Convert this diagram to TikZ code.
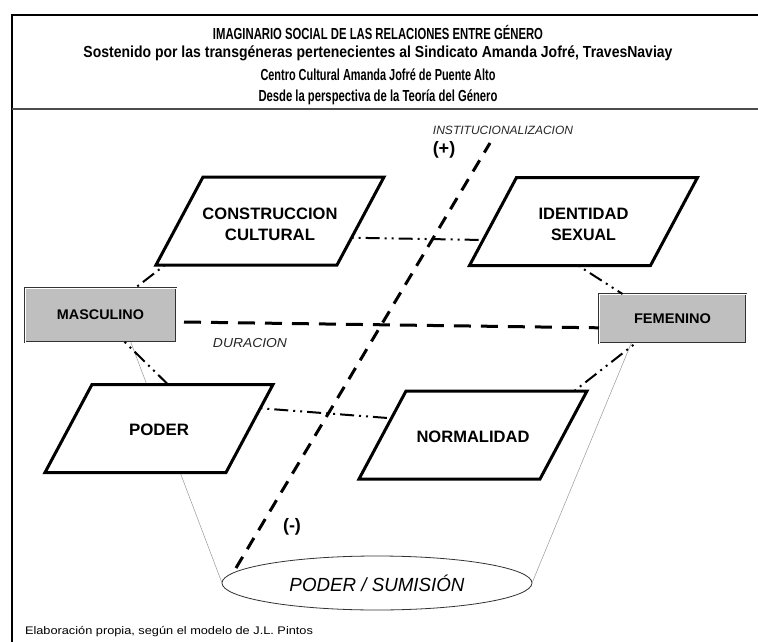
\documentclass[tikz,border=0pt]{standalone}
\usepackage{fontspec}
\setmainfont{Liberation Sans}
\usepackage{graphicx}
\usetikzlibrary{calc,shapes.geometric}
\newcommand\fitw[2]{\resizebox{#1}{\height}{#2}}
\newcommand\paracorners[1]{%
  \coordinate (#1-tl) at ([xshift=23.5pt]#1.north west);
  \coordinate (#1-tr) at ([xshift=23.5pt]#1.north east);
  \coordinate (#1-br) at ([xshift=-23.5pt]#1.south east);
  \coordinate (#1-bl) at ([xshift=-23.5pt]#1.south west);}
\begin{document}
\begin{tikzpicture}[x=1pt,y=-1pt,
  every node/.style={inner sep=0pt, outer sep=0pt},
  frameline/.style={line width=1.6pt, black},
  titlerule/.style={line width=1.2pt, black!70},
  pframe/.style={minimum width=181pt, minimum height=88pt},
  pshape/.style={line width=3pt, fill=white, line join=miter},
  plabel/.style={align=center, font=\bfseries\fontsize{16.5}{21}\selectfont},
  gbox/.style={fill=black!25, draw=black!80, line width=0.7pt, double=white, double distance=0.8pt, minimum width=151pt, minimum height=54pt},
  glabel/.style={font=\bfseries\fontsize{14}{16}\selectfont},
  ddd/.style={line width=2pt, dash pattern=on 2pt off 5pt on 2pt off 5pt on 14pt off 5pt},
  bigdash/.style={line width=3pt, dash pattern=on 17pt off 10pt},
  diagdash/.style={line width=3pt, dash pattern=on 13pt off 9pt},
  funnel/.style={line width=0.5pt, black!40},
  axislabel/.style={font=\itshape\fontsize{12}{14}\selectfont, text=black!85},
  sign/.style={font=\bfseries\fontsize{18}{20}\selectfont},
  titlefont/.style={font=\bfseries\fontsize{16}{18}\selectfont},
]
\useasboundingbox (0,0) rectangle (758,642);
\fill[white] (0,0) rectangle (758,642);

% frame
\coordinate (fr-tr) at (758,15);
\coordinate (fr-tl) at (12,15);
\coordinate (fr-bl) at (12,642);
\coordinate (tr-l) at (12,109);
\coordinate (tr-r) at (758,109);
\draw[frameline] (fr-tr) -- (fr-tl) -- (fr-bl);
\draw[titlerule] (tr-l) -- (tr-r);

% title
\node[titlefont] (t1) at (378,32) {\fitw{330pt}{IMAGINARIO SOCIAL DE LAS RELACIONES ENTRE GÉNERO}};
\node[titlefont] (t2) at (378,53) {\fitw{589pt}{Sostenido por las transgéneras pertenecientes al Sindicato Amanda Jofré, TravesNaviay}};
\node[titlefont] (t3) at (378,75) {\fitw{235pt}{Centro Cultural Amanda Jofré de Puente Alto}};
\node[titlefont] (t4) at (378,97) {\fitw{239pt}{Desde la perspectiva de la Teoría del Género}};

% parallelogram frames
\node[pframe] (cc) at (270,221) {};
\node[pframe] (id) at (583.5,221.5) {};
\node[pframe] (pod) at (159,428.5) {};
\node[pframe] (nor) at (473,435) {};
\paracorners{cc}\paracorners{id}\paracorners{pod}\paracorners{nor}

% gray boxes and ellipse
\node[gbox, glabel] (masc) at (100.5,315) {\fitw{87pt}{MASCULINO}};
\node[gbox, glabel, minimum width=147pt, minimum height=49pt] (fem) at (672.5,318.5) {\fitw{77pt}{FEMENINO}};
\node[draw=black!80, line width=0.8pt, ellipse, minimum width=310pt, minimum height=54pt,
      font=\itshape\fontsize{19}{22}\selectfont] (ps) at (377,583) {\fitw{175pt}{PODER / SUMISIÓN}};

% funnel lines
\draw[funnel] ($(masc.south west)!0.70!(masc.south east)$) -- (ps.west);
\draw[funnel] ($(fem.south west)!0.22!(fem.south east)$) -- (ps.east);

% parallelograms
\draw[pshape] (cc-tl) -- (cc-tr) -- (cc-br) -- (cc-bl) -- cycle;
\draw[pshape] (id-tl) -- (id-tr) -- (id-br) -- (id-bl) -- cycle;
\draw[pshape] (pod-tl) -- (pod-tr) -- (pod-br) -- (pod-bl) -- cycle;
\draw[pshape] (nor-tl) -- (nor-tr) -- (nor-br) -- (nor-bl) -- cycle;
\node[plabel] (cclab) at ([yshift=-3pt]cc.center) {\fitw{135pt}{CONSTRUCCION}\\\fitw{90pt}{CULTURAL}};
\node[plabel] (idlab) at ([yshift=-3pt]id.center) {\fitw{90pt}{IDENTIDAD}\\\fitw{65pt}{SEXUAL}};
\node[plabel] (podlab) at ([yshift=-1.5pt]pod.center) {\fitw{60pt}{PODER}};
\node[plabel] (norlab) at ([yshift=-2pt]nor.center) {\fitw{113pt}{NORMALIDAD}};

% dash-dot-dot connectors
\draw[ddd] ($(cc-tr)!0.69!(cc-br)$) -- ($(id-tl)!0.71!(id-bl)$);
\draw[ddd] ($(cc-bl)!0.05!(cc-br)$) -- ($(masc.north west)!0.73!(masc.north east)$);
\draw[ddd] ($(id-bl)!0.6!(id-br)$) -- ($(fem.north west)!0.16!(fem.north east)$);
\draw[ddd] ($(masc.south west)!0.66!(masc.south east)$) -- ($(pod-tl)!0.42!(pod-tr)$);
\draw[ddd] ($(pod-tr)!0.27!(pod-br)$) -- ($(nor-tl)!0.31!(nor-bl)$);
\draw[ddd] ($(nor-tl)!0.93!(nor-tr)$) -- ($(fem.south west)!0.25!(fem.south east)$);

% duration axis
\draw[bigdash] ([xshift=8pt]$(masc.north east)!0.63!(masc.south east)$) -- ($(fem.north west)!0.69!(fem.south west)$);

% institutionalization axis
\coordinate (itop) at (490,143);
\coordinate (ibot) at (236,568);
\draw[diagdash] (ibot) -- (itop);

% labels
\node[axislabel] (inst) at (503,130) {\fitw{140pt}{INSTITUCIONALIZACION}};
\node[sign] (plus) at (444,150) {(+)};
\node[sign] (minus) at (292,527) {(-)};
\node[axislabel, font=\itshape\fontsize{13}{15}\selectfont] (dur) at (250,343) {\fitw{74pt}{DURACION}};
\node[anchor=west, font=\fontsize{11}{13}\selectfont] (foot) at (25,632) {\fitw{288pt}{Elaboración propia, según el modelo de J.L. Pintos}};
\end{tikzpicture}
\end{document}
